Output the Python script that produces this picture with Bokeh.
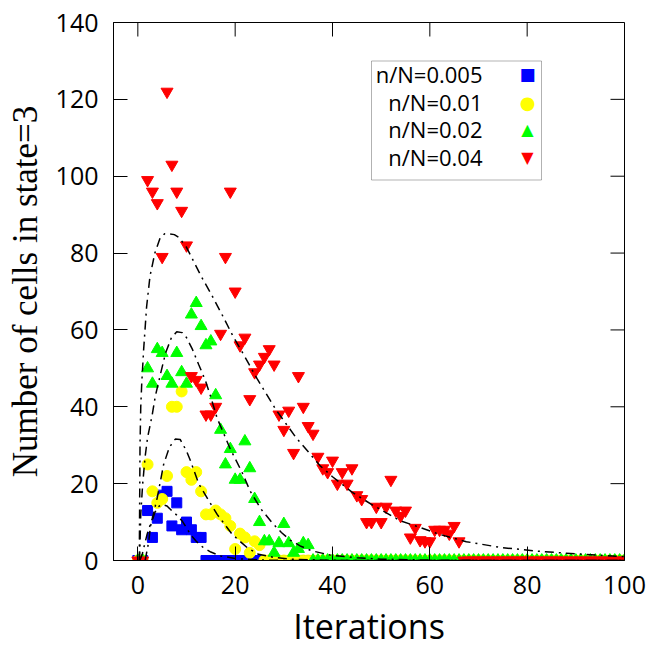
from bokeh.plotting import figure
from bokeh.models import Range1d, FixedTicker, Label, BoxAnnotation
from bokeh.embed import file_html
from bokeh.resources import INLINE

# ---------------- data ----------------
iterations = list(range(0, 101))

# n/N = 0.005 (blue squares)
blue_y = [0, 0, 13, 6, 11, 17, 18, 9, 15, 8,
          10, 8, 6, 6, 0, 0, 0, 0, 0, 0,
          0, 0, 0, 0, 0, 0, 0, 0, 0, 0,
          0, 0, 0, 0, 0, 0, 0, 0, 0, 0,
          0, 0, 0, 0, 0, 0, 0, 0, 0, 0,
          0, 0, 0, 0, 0, 0, 0, 0, 0, 0,
          0, 0, 0, 0, 0, 0, 0, 0, 0, 0,
          0, 0, 0, 0, 0, 0, 0, 0, 0, 0,
          0, 0, 0, 0, 0, 0, 0, 0, 0, 0,
          0, 0, 0, 0, 0, 0, 0, 0, 0, 0,
          0]

# n/N = 0.01 (yellow circles)
yellow_y = [0, 0, 25, 18, 15, 16, 22, 40, 40, 44,
            23, 21, 23, 18, 12, 12, 13, 12, 11, 9,
            3, 7, 6, 2, 5, 4, 0, 0, 0, 0,
            0, 0, 0, 0, 0, 0, 0, 0, 0, 0,
            0, 0, 0, 0, 0, 0, 0, 0, 0, 0,
            0, 0, 0, 0, 0, 0, 0, 0, 0, 0,
            0, 0, 0, 0, 0, 0, 0, 0, 0, 0,
            0, 0, 0, 0, 0, 0, 0, 0, 0, 0,
            0, 0, 0, 0, 0, 0, 0, 0, 0, 0,
            0, 0, 0, 0, 0, 0, 0, 0, 0, 0,
            0]

# n/N = 0.02 (green triangles)
green_y = [0, 0, 50, 46, 55, 54, 48, 46, 54, 49,
           46, 64, 67, 61, 56, 57, 43, 34, 25, 29,
           21, 21, 31, 24, 16, 10, 5, 5, 2, 4.5,
           9.5, 4.5, 2, 3, 4.5, 4, 0, 0, 0, 0,
           0, 0, 0, 0, 0, 0, 0, 0, 0, 0,
           0, 0, 0, 0, 0, 0, 0, 0, 0, 0,
           0, 0, 0, 0, 0, 0, 0, 0, 0, 0,
           0, 0, 0, 0, 0, 0, 0, 0, 0, 0,
           0, 0, 0, 0, 0, 0, 0, 0, 0, 0,
           0, 0, 0, 0, 0, 0, 0, 0, 0, 0,
           0]

# n/N = 0.04 (red inverted triangles)
red_y = [0, 0, 99, 96, 93, 79, 122, 103, 96, 91,
         82, 48, 47, 45, 38, 38, 40, 59, 79, 96,
         70, 56, 58, 42, 49, 51, 53, 55, 51, 38,
         34, 39, 28, 48, 40, 35, 33, 27, 24, 23,
         26, 20, 23, 20, 24, 17, 16, 10, 10, 14,
         10, 14, 21, 13, 11.6, 13, 6, 8.5, 5.3, 5,
         5, 8, 8, 8, 7, 9, 5, 0, 0, 0,
         0, 0, 0, 0, 0, 0, 0, 0, 0, 0,
         0, 0, 0, 0, 0, 0, 0, 0, 0, 0,
         0, 0, 0, 0, 0, 0, 0, 0, 0, 0,
         0]

# fitted curves
fit1_x = [1.5, 2.25, 2.6, 3.5, 4.2, 5, 6, 7, 8, 9.1, 10, 10.8, 12, 13.5, 15, 17, 20, 25, 30, 100]
fit1_y = [0, 5, 9, 12.5, 14, 14.6, 14.2, 12.9, 11.8, 10.3, 8.5, 6.8, 5, 3.3, 2.2, 1.2, 0.5, 0.15, 0, 0]

fit2_x = [0.4, 0.9, 1.9, 3, 4, 5.3, 6.5, 7.7, 8.7, 10, 10.8, 12.5, 14.6, 16.3, 19.4, 22.5, 24.8, 28, 32, 40, 50, 100]
fit2_y = [0, 1.6, 6.8, 11, 16.4, 25, 29.5, 31.6, 31.5, 28.5, 26, 20, 15.5, 12, 6.8, 3.3, 1.6, 0.8, 0.3, 0.05, 0, 0]

fit3_x = [0.35, 0.6, 1, 1.5, 2, 2.9, 3.6, 4.65, 5.7, 6.9, 8, 9.1, 10, 11.2, 12.5, 13.9, 15, 16.3, 17.5, 19,
          21.4, 23.1, 25.3, 27.6, 29.5, 31.3, 33.5, 35.8, 39.6, 45, 50, 60, 70, 80, 100]
fit3_y = [0, 12, 20, 27, 32, 37.5, 42.8, 48.5, 54, 58, 59.5, 59.3, 58, 55, 51, 46.8, 42.5, 37, 33.5, 29,
          23, 18, 13.4, 9.8, 7.3, 5.3, 3.7, 2.5, 1.4, 0.7, 0.35, 0.1, 0.03, 0, 0]

fit4_x = [0.3, 0.45, 0.6, 0.8, 1.2, 1.8, 2.5, 3.5, 4.6, 5.5, 6.5, 7.5, 8.5, 10, 11, 13, 15, 17.5, 19.5, 22,
          24.5, 28.5, 32.5, 37.5, 40, 44, 48, 54, 58, 62, 67.5, 74.5, 82.5, 91.5, 100]
fit4_y = [0, 30, 40, 46, 55, 66, 74, 80, 84, 85, 85, 84.8, 84, 81.5, 79, 74, 69.5, 63.5, 58.5, 53,
          47.3, 39, 32, 24.6, 21.8, 17.8, 14.6, 10.3, 8.6, 6.8, 4.9, 3.4, 2.4, 1.6, 1.0]

x_ticks = [0, 20, 40, 60, 80, 100]
y_ticks = [0, 20, 40, 60, 80, 100, 120, 140]

x_title = "Iterations"
y_title = "Number of cells in state=3"
legend_labels = ["n/N=0.005", "n/N=0.01", "n/N=0.02", "n/N=0.04"]
legend_symbols = ["\u25a0", "\u25cf", "\u25b2", "\u25bc"]
colors = ["#0000ff", "#ffff00", "#00ff00", "#ff0000"]

FONT = "Open Sans"

# ---------------- layout ----------------
W, H = 649, 652
B_LEFT, B_RIGHT, B_TOP, B_BOTTOM = 113, 25, 22, 92
X0, X1, Y0, Y1 = -5, 100, 0, 140
TICK_LEN = 14

p = figure(width=W, height=H, output_backend="svg", toolbar_location=None,
           x_range=Range1d(X0, X1), y_range=Range1d(Y0, Y1),
           min_border_left=B_LEFT, min_border_right=B_RIGHT,
           min_border_top=B_TOP, min_border_bottom=B_BOTTOM)
p.grid.visible = False
p.outline_line_color = "black"
p.outline_line_width = 1
p.background_fill_color = "white"
p.border_fill_color = "white"

for ax in (p.xaxis[0], p.yaxis[0]):
    ax.major_tick_in = TICK_LEN
    ax.major_tick_out = 0
    ax.minor_tick_line_color = None
    ax.axis_line_color = "black"
    ax.major_tick_line_color = "black"
    ax.major_label_text_font = FONT
    ax.major_label_text_font_size = "25px"
    ax.major_label_text_color = "black"

p.xaxis[0].ticker = FixedTicker(ticks=x_ticks)
p.yaxis[0].ticker = FixedTicker(ticks=y_ticks)
p.xaxis[0].major_label_standoff = 15
p.yaxis[0].major_label_standoff = 15

p.xaxis[0].axis_label = x_title
p.xaxis[0].axis_label_text_font = FONT
p.xaxis[0].axis_label_text_font_size = "34px"
p.xaxis[0].axis_label_text_font_style = "normal"
p.xaxis[0].axis_label_text_color = "black"
p.xaxis[0].axis_label_standoff = 6

p.yaxis[0].axis_label = y_title
p.yaxis[0].axis_label_text_font = "Liberation Serif"
p.yaxis[0].axis_label_text_font_size = "35px"
p.yaxis[0].axis_label_text_font_style = "normal"
p.yaxis[0].axis_label_text_color = "black"
p.yaxis[0].axis_label_standoff = 8

# ---------------- data marks ----------------
p.scatter(iterations, blue_y, marker="square", size=10, fill_color=colors[0], line_color=colors[0])
p.scatter(iterations, yellow_y, marker="circle", size=11, fill_color=colors[1], line_color=colors[1])
p.scatter(iterations, green_y, marker="triangle", size=12, fill_color=colors[2], line_color=colors[2])
p.scatter(iterations, red_y, marker="inverted_triangle", size=12, fill_color=colors[3], line_color=colors[3])

for fx, fy in ((fit1_x, fit1_y), (fit2_x, fit2_y), (fit3_x, fit3_y), (fit4_x, fit4_y)):
    p.line(fx, fy, line_color="black", line_width=1.5, line_dash="9 5 2 5")

# mirrored (inward) ticks on the top and right borders, gnuplot style
frame_w = W - B_LEFT - B_RIGHT
frame_h = H - B_TOP - B_BOTTOM
dx = TICK_LEN * (X1 - X0) / frame_w
dy = TICK_LEN * (Y1 - Y0) / frame_h
p.segment(x0=x_ticks, y0=[Y1] * len(x_ticks), x1=x_ticks, y1=[Y1 - dy] * len(x_ticks),
          line_color="black", line_width=1)
p.segment(x0=[X1] * len(y_ticks), y0=y_ticks, x1=[X1 - dx] * len(y_ticks), y1=y_ticks,
          line_color="black", line_width=1)

# ---------------- legend (gnuplot style: text then symbol) ----------------
p.add_layout(BoxAnnotation(left=258, right=428, top=499.5, bottom=380.5,
                           left_units="screen", right_units="screen",
                           top_units="screen", bottom_units="screen",
                           fill_color="white", fill_alpha=1.0,
                           line_color="black", line_width=1, level="annotation"))
row_y = [486.5, 458.5, 431.5, 403.5]
sym_size = ["17px", "18px", "16px", "16px"]
for lab, sym, col, yy, ss in zip(legend_labels, legend_symbols, colors, row_y, sym_size):
    p.add_layout(Label(x=369, y=yy, x_units="screen", y_units="screen", text=lab,
                       text_align="right", text_baseline="middle",
                       text_font=FONT, text_font_size="22px", text_color="black"))
    p.add_layout(Label(x=414, y=yy, x_units="screen", y_units="screen", text=sym,
                       text_align="center", text_baseline="middle",
                       text_font="DejaVu Sans", text_font_size=ss, text_color=col))

open("out.html", "w").write(file_html(p, INLINE))
